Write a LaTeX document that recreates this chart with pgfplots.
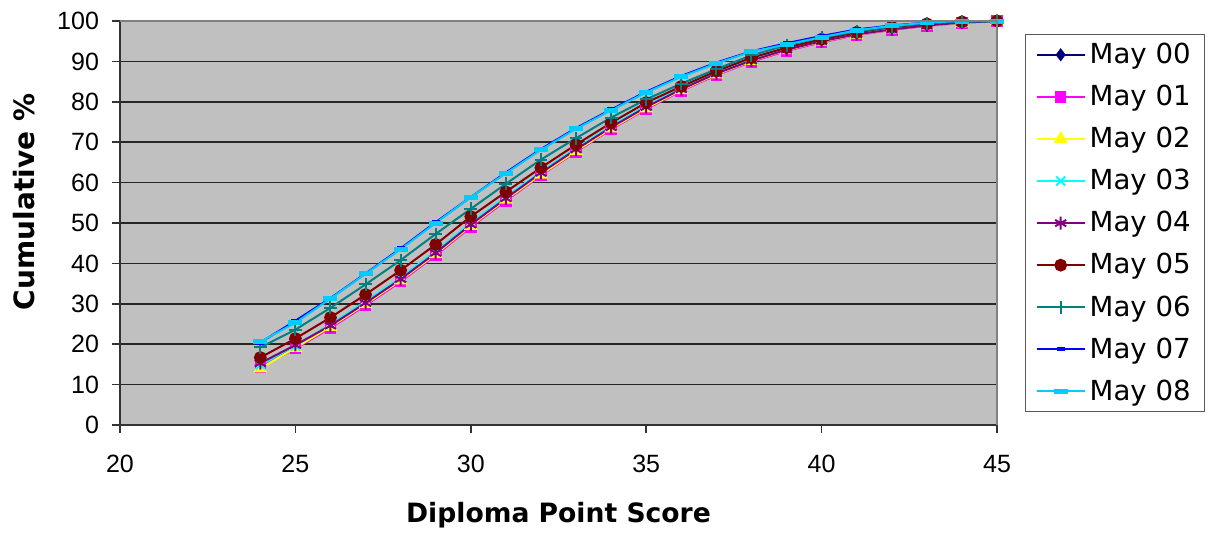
\documentclass[border=0pt]{standalone}
\usepackage{fontspec}
\setmainfont{Liberation Sans}
\newfontfamily\dejavu{DejaVu Sans}
\usepackage{pgfplots}
\pgfplotsset{compat=1.18}
\usetikzlibrary{calc}

\definecolor{plotbg}{RGB}{192,192,192}
\definecolor{c00}{RGB}{0,0,128}
\definecolor{c01}{RGB}{255,0,255}
\definecolor{c02}{RGB}{255,255,0}
\definecolor{c03}{RGB}{0,255,255}
\definecolor{c04}{RGB}{128,0,128}
\definecolor{c05}{RGB}{128,0,0}
\definecolor{c06}{RGB}{0,128,128}
\definecolor{c07}{RGB}{0,0,255}
\definecolor{c08}{RGB}{0,204,255}

\begin{document}
\begin{tikzpicture}
\begin{axis}[
  name=ax,
  scale only axis,
  width=438.5pt, height=202pt,
  xmin=20, xmax=45,
  ymin=0, ymax=100,
  xtick={20,25,...,45},
  ytick={0,10,...,100},
  /pgf/number format/assume math mode=true,
  tick align=outside,
  xtick pos=left, ytick pos=left,
  major tick length=4pt,
  tick style={black!80, line width=0.8pt},
  ymajorgrids=true,
  grid style={black!85, line width=0.8pt},
  axis background/.style={fill=plotbg},
  axis line style={black!80, line width=0.8pt},
  ticklabel style={font=\fontsize{12.5}{14}\selectfont},
  yticklabel style={xshift=-3pt},
  xticklabel style={yshift=-7.5pt},
  xlabel={\dejavu\bfseries Diploma Point Score},
  ylabel={\dejavu\bfseries Cumulative \%},
  xlabel style={font=\fontsize{13.3}{15}\selectfont, at={(rel axis cs:0.5,-0.222)}, anchor=center},
  ylabel style={font=\fontsize{14}{15}\selectfont, at={(rel axis cs:-0.109,0.552)}, anchor=center},
  legend style={
    at={(rel axis cs:1.0319,0.968)}, anchor=north west,
    draw=black!65, line width=0.7pt,
    font=\dejavu\fontsize{13.8}{15}\selectfont,
    inner xsep=5pt, inner ysep=2.2pt,
    row sep=5.3pt,
  },
  legend cell align=left,
  legend image code/.code={
    \draw[mark repeat=2, mark phase=2] plot coordinates {(0pt,0pt) (12pt,0pt) (24pt,0pt)};
  },
  every axis plot/.append style={line width=1pt, mark size=2.5pt},
]
\addplot[color=c00, mark=diamond*] coordinates {
  (24,15.0)(25,19.5)(26,24.8)(27,30.4)(28,36.3)(29,42.8)(30,49.8)(31,56.3)(32,62.5)(33,68.3)(34,73.8)
  (35,78.8)(36,83.2)(37,87.1)(38,90.4)(39,93.0)(40,95.1)(41,96.8)(42,98.0)(43,99.0)(44,99.6)(45,100)
};
\addplot[color=c01, mark=square*, mark size=2.4pt] coordinates {
  (24,14.3)(25,18.9)(26,24.0)(27,29.6)(28,35.5)(29,42.0)(30,49.0)(31,55.5)(32,61.8)(33,67.6)(34,73.2)
  (35,78.2)(36,82.7)(37,86.6)(38,89.9)(39,92.6)(40,94.7)(41,96.5)(42,97.8)(43,98.8)(44,99.5)(45,100)
};
\addplot[color=c02, mark=triangle*, mark size=3pt] coordinates {
  (24,14.0)(25,19.1)(26,24.3)(27,29.9)(28,35.8)(29,42.3)(30,49.3)(31,55.8)(32,62.0)(33,67.8)(34,73.4)
  (35,78.4)(36,82.9)(37,86.8)(38,90.1)(39,92.8)(40,94.9)(41,96.6)(42,97.9)(43,98.9)(44,99.5)(45,100)
};
\addplot[color=c03, mark=x, mark size=3.2pt] coordinates {
  (24,14.9)(25,19.6)(26,24.9)(27,30.6)(28,36.5)(29,43.0)(30,50.0)(31,56.5)(32,62.7)(33,68.5)(34,74.0)
  (35,79.0)(36,83.4)(37,87.2)(38,90.5)(39,93.1)(40,95.2)(41,96.9)(42,98.1)(43,99.0)(44,99.6)(45,100)
};
\addplot[color=c04, mark=asterisk, mark size=3.2pt] coordinates {
  (24,15.3)(25,19.8)(26,24.6)(27,30.2)(28,36.1)(29,42.6)(30,49.6)(31,56.1)(32,62.4)(33,68.2)(34,73.7)
  (35,78.7)(36,83.1)(37,87.0)(38,90.2)(39,92.9)(40,95.0)(41,96.7)(42,97.9)(43,98.9)(44,99.6)(45,100)
};
\addplot[color=c05, mark=*, mark size=2.7pt] coordinates {
  (24,16.7)(25,21.4)(26,26.6)(27,32.3)(28,38.3)(29,44.7)(30,51.6)(31,57.7)(32,63.7)(33,69.4)(34,74.8)
  (35,79.8)(36,83.8)(37,87.6)(38,90.9)(39,93.4)(40,95.5)(41,97.2)(42,98.5)(43,99.3)(44,99.8)(45,100)
};
\addplot[color=c06, mark=+, mark size=3.2pt] coordinates {
  (24,19.2)(25,23.6)(26,29.0)(27,34.8)(28,40.8)(29,47.3)(30,53.5)(31,59.7)(32,65.7)(33,71.0)(34,76.1)
  (35,80.6)(36,84.5)(37,88.1)(38,91.5)(39,94.0)(40,95.9)(41,97.4)(42,98.6)(43,99.4)(44,99.8)(45,100)
};
\addplot[color=c07, mark=-, mark size=2pt, mark options={line width=2pt}] coordinates {
  (24,20.4)(25,25.8)(26,31.4)(27,37.5)(28,43.7)(29,50.2)(30,56.4)(31,62.5)(32,68.3)(33,73.5)(34,78.1)
  (35,82.5)(36,86.4)(37,89.7)(38,92.5)(39,94.5)(40,96.3)(41,97.9)(42,98.9)(43,99.6)(44,100)(45,100)
};
\addplot[color=c08, mark=-, mark size=3.5pt, mark options={line width=2.5pt}] coordinates {
  (24,20.6)(25,25.3)(26,31.3)(27,37.4)(28,43.5)(29,50.0)(30,56.4)(31,62.3)(32,68.1)(33,73.3)(34,77.9)
  (35,82.3)(36,86.2)(37,89.5)(38,92.4)(39,94.2)(40,96.0)(41,97.7)(42,98.8)(43,99.6)(44,100)(45,100)
};
\legend{May 00,May 01,May 02,May 03,May 04,May 05,May 06,May 07,May 08}
\end{axis}
\draw[gray, line width=0.8pt] (ax.north west) -- (ax.north east) -- (ax.south east);
\pgfresetboundingbox
\path ($(ax.south west)+(-60pt,-55.5pt)$) rectangle ++(604pt,268pt);
\end{tikzpicture}
\end{document}
